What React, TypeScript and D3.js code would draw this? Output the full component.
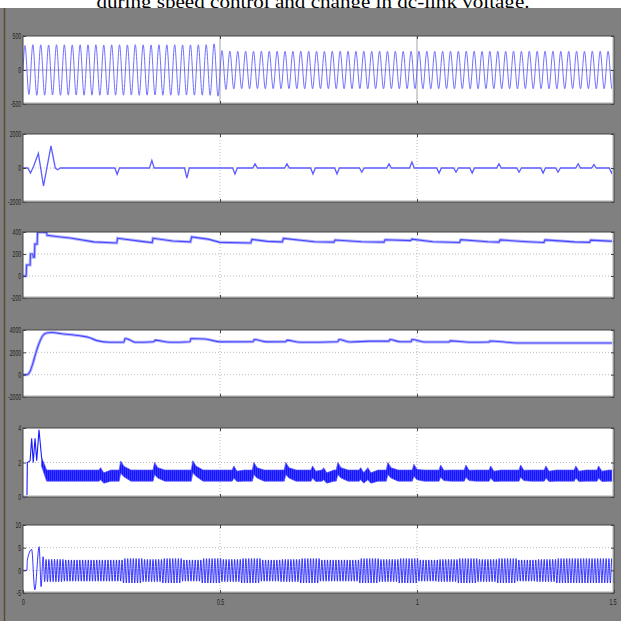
import * as d3 from 'd3';
import React, { useEffect, useRef } from 'react';

const WIDTH = 621;
const HEIGHT = 621;
const PLOT_LEFT = 23;
const PLOT_RIGHT = 614;
const PANEL_TOPS = [36, 134, 232, 330, 428, 525];
const PANEL_BOTTOMS = [104, 202, 298, 397, 497, 593];

const CAPTION = 'during speed control and change in dc-link voltage.';

const X_TICKS = [0, 0.5, 1, 1.5];
const X_TICK_LABELS = ['0', '0.5', '1', '1.5'];
const Y_DOMAINS = [
  [-500, 500],
  [-2000, 2000],
  [-200, 400],
  [-2000, 4000],
  [0, 4],
  [-5, 10],
];
const Y_TICKS = [
  [-500, 0, 500],
  [-2000, 0, 2000],
  [-200, 0, 200, 400],
  [-2000, 0, 2000, 4000],
  [0, 2, 4],
  [-5, 0, 5, 10],
];

// panel 1: 50 Hz voltage, peak of each cycle
const VA_FREQ = 50;
const VA_AMP_PRE = [
  360, 372, 370, 368, 372, 370, 369, 371, 370, 372, 368, 370, 371, 369, 372, 370, 368, 371, 370, 372,
  369, 370, 371, 372, 385,
];
const VA_AMP_POST = [
  285, 278, 275, 276, 274, 277, 275, 276, 274, 275, 277, 276, 274, 275, 276, 277, 275, 274, 276, 275,
  277, 275, 276, 274, 275, 276, 277, 275, 274, 276, 275, 277, 276, 274, 275, 276, 275, 277, 274, 276,
  275, 276, 277, 275, 274, 276, 275, 277, 276, 275,
];

// panel 2: torque, start-up swing and spikes
const TE_START = [
  [0, 0], [0.012, 0], [0.019, -300], [0.027, 100], [0.039, 860], [0.052, -1060],
  [0.071, 1300], [0.082, 0], [0.088, -100], [0.095, 0],
];
const TE_SPIKE_T = [
  0.239, 0.327, 0.416, 0.538, 0.589, 0.67, 0.736, 0.797, 0.86, 0.929, 0.987, 1.056, 1.099, 1.14,
  1.208, 1.259, 1.32, 1.358, 1.409, 1.449, 1.494,
];
const TE_SPIKE_V = [
  -370, 450, -590, -350, 240, 240, -350, -350, -250, 240, 350, -300, -250, -300, 250, -250, -300,
  -250, 250, 200, -300,
];

// panel 3: speed
const SPEED = [
  [0, 0], [0.008, 0], [0.009, 100], [0.018, 100], [0.019, 200], [0.025, 200], [0.026, 170],
  [0.029, 170], [0.03, 290], [0.036, 290], [0.037, 400], [0.06, 395], [0.061, 370], [0.09, 357],
  [0.12, 345], [0.18, 310], [0.238, 300], [0.24, 343], [0.3, 315], [0.328, 303], [0.33, 343],
  [0.38, 318], [0.425, 310], [0.428, 355], [0.47, 335], [0.5, 306], [0.578, 300], [0.581, 333],
  [0.62, 315], [0.658, 310], [0.661, 342], [0.74, 312], [0.789, 308], [0.792, 327], [0.86, 312],
  [0.916, 308], [0.919, 330], [0.984, 322], [0.987, 335], [1.04, 312], [1.108, 305], [1.111, 330],
  [1.18, 312], [1.208, 308], [1.211, 328], [1.28, 312], [1.322, 305], [1.325, 328], [1.4, 310],
  [1.438, 306], [1.441, 326], [1.5, 315],
];

// panel 4: dc-link voltage
const VDC = [
  [0, 0], [0.01, 0], [0.018, 300], [0.025, 1000], [0.033, 2000], [0.043, 3000], [0.053, 3600],
  [0.063, 3760], [0.076, 3770], [0.094, 3680], [0.145, 3480], [0.17, 3300], [0.188, 3050],
  [0.221, 2900], [0.256, 2900], [0.259, 3240], [0.272, 3100], [0.284, 2900], [0.332, 2950],
  [0.335, 3090], [0.373, 2900], [0.424, 2950], [0.426, 3240], [0.462, 3200], [0.5, 2940],
  [0.584, 2950], [0.587, 3150], [0.619, 2940], [0.667, 2950], [0.67, 3090], [0.703, 2900],
  [0.799, 2950], [0.802, 3150], [0.83, 2920], [0.881, 3000], [0.929, 3000], [0.931, 3150],
  [0.957, 2950], [0.985, 2950], [0.987, 3150], [1.02, 2920], [1.082, 2930], [1.084, 3030],
  [1.134, 2900], [1.183, 2920], [1.185, 3020], [1.236, 2880], [1.26, 2830], [1.5, 2830],
];

// panel 5: current magnitude, start-up and ripple band
const IQ_START = [
  [0, 0], [0.01, 0], [0.011, 2.0], [0.018, 2.1], [0.022, 3.4], [0.026, 2.0], [0.0305, 3.4],
  [0.0348, 2.1], [0.0406, 3.9], [0.0475, 2.2],
];
const IQ_BAND_HI = 1.56;
const IQ_BAND_LO = 0.92;
const IQ_SPIKES = [
  [0.195, 1.7], [0.246, 2.08], [0.332, 2.0], [0.429, 2.1], [0.533, 1.8], [0.584, 2.0],
  [0.665, 2.0], [0.733, 1.8], [0.761, 1.7], [0.797, 2.0], [0.855, 1.7], [0.873, 1.7],
  [0.924, 2.0], [0.99, 1.9], [1.058, 1.85], [1.122, 1.85], [1.185, 1.8], [1.261, 1.85],
  [1.325, 1.8], [1.401, 1.8], [1.459, 1.8],
];

// panel 6: phase current, start-up and per-0.05 s peak levels
const IA_START = [
  [0, 0], [0.01, 0], [0.011, 2.3], [0.022, 4.6], [0.03, -4.3], [0.041, 5.2], [0.046, -3.6],
  [0.051, 3.0],
];
const IA_FREQ = 140;
const IA_BLOCK = 0.05;
const IA_HI = [
  2.3, 2.4, 2.3, 2.3, 2.3, 2.6, 2.4, 2.6, 2.3, 2.6, 2.4, 2.6, 2.3, 2.4, 2.6, 2.3, 2.3, 2.6, 2.4,
  2.6, 2.3, 2.4, 2.6, 2.4, 2.6, 2.3, 2.4, 2.6, 2.6, 2.6,
];
const IA_LO = [
  -2.4, -2.5, -2.4, -2.4, -2.4, -2.8, -2.5, -2.8, -2.4, -2.8, -2.5, -2.8, -2.4, -2.5, -2.8, -2.4,
  -2.4, -2.8, -2.5, -2.8, -2.4, -2.5, -2.8, -2.5, -2.8, -2.4, -2.5, -2.8, -2.8, -2.8,
];

const LABEL_FONT = "'Liberation Sans', 'DejaVu Sans', sans-serif";

// squeeze the tick labels like the scope screenshot
const labelWidth = (s: string) =>
  s.split('').reduce((w, c) => w + (c === '-' ? 1.7 : c === '.' ? 1.5 : 2.8), 0);

const App = () => {
  const ref = useRef<SVGSVGElement>(null);

  useEffect(() => {
    if (ref.current === null) return;
    ref.current.replaceChildren();

    const svg = d3.select(ref.current);

    // ripple texture for the dense current band
    const pattern = svg
      .append('defs')
      .append('pattern')
      .attr('id', 'ripple')
      .attr('patternUnits', 'userSpaceOnUse')
      .attr('width', 2)
      .attr('height', 4);
    pattern.append('rect').attr('width', 2).attr('height', 4).attr('fill', '#1414ff');
    pattern.append('rect').attr('x', 1.3).attr('width', 0.7).attr('height', 4).attr('fill', '#4a4aff');

    svg.append('rect').attr('width', WIDTH).attr('height', HEIGHT).attr('fill', '#ffffff');
    svg
      .append('text')
      .attr('x', 313)
      .attr('y', 7.5)
      .attr('text-anchor', 'middle')
      .attr('font-family', "'Liberation Serif', 'Times New Roman', serif")
      .attr('font-size', 19)
      .attr('textLength', 433)
      .attr('lengthAdjust', 'spacingAndGlyphs')
      .attr('fill', '#000')
      .text(CAPTION);
    svg
      .append('rect')
      .attr('y', 8)
      .attr('width', WIDTH)
      .attr('height', HEIGHT - 8)
      .attr('fill', '#808080');
    svg
      .append('line')
      .attr('x1', 4.5)
      .attr('x2', 4.5)
      .attr('y1', 8)
      .attr('y2', HEIGHT)
      .attr('stroke', '#5e4a32')
      .attr('stroke-width', 1.5);

    const x = d3.scaleLinear().domain([0, 1.5]).range([PLOT_LEFT, PLOT_RIGHT]);

    // build each trace from the data arrays
    const va: [number, number][] = [[0, 0]];
    [...VA_AMP_PRE, ...VA_AMP_POST].forEach((a, k) => {
      const t0 = k / VA_FREQ;
      va.push([t0 + 0.25 / VA_FREQ, a], [t0 + 0.75 / VA_FREQ, -a]);
    });
    va.push([1.5, 0]);

    const te: [number, number][] = TE_START.map((d) => [d[0], d[1]]);
    TE_SPIKE_T.forEach((t, i) => {
      te.push([t - 0.006, 0], [t, TE_SPIKE_V[i]], [Math.min(t + 0.006, 1.5), 0]);
    });
    te.push([1.5, 0]);

    const iqBand: [number, number, number][] = [
      [0.047, 2.3, 1.8],
      [0.06, IQ_BAND_HI, IQ_BAND_LO],
    ];
    IQ_SPIKES.forEach(([t, v], i) => {
      const next = i + 1 < IQ_SPIKES.length ? IQ_SPIKES[i + 1][0] : 1.52;
      const end = Math.min(t + 0.028, next - 0.003);
      iqBand.push(
        [t - 0.002, IQ_BAND_HI, IQ_BAND_LO],
        [t + 0.002, v, v - 0.7],
        [t + 0.01, v - 0.3, v - 0.9],
        [end, IQ_BAND_HI, IQ_BAND_LO],
      );
    });
    iqBand.push([1.5, IQ_BAND_HI, IQ_BAND_LO]);

    const ia: [number, number][] = IA_START.map((d) => [d[0], d[1]]);
    const period = 1 / IA_FREQ;
    for (let t = 0.055; t < 1.5; t += period) {
      const b = Math.min(IA_HI.length - 1, Math.floor(t / IA_BLOCK));
      ia.push([t, IA_LO[b]], [t + period / 2, IA_HI[b]]);
    }

    PANEL_TOPS.forEach((top, p) => {
      const bottom = PANEL_BOTTOMS[p];
      const y = d3.scaleLinear().domain(Y_DOMAINS[p]).range([bottom, top]);
      const g = svg.append('g');

      g.append('rect')
        .attr('x', PLOT_LEFT)
        .attr('y', top)
        .attr('width', PLOT_RIGHT - PLOT_LEFT)
        .attr('height', bottom - top)
        .attr('fill', '#ffffff');

      // grid
      const solidGrid = p === 0;
      const grid = g
        .append('g')
        .attr('stroke', solidGrid ? '#9a9a9a' : '#a8a8a8')
        .attr('stroke-width', solidGrid ? 0.9 : 0.8)
        .attr('stroke-dasharray', solidGrid ? null : '1,2');
      grid
        .selectAll('line.gy')
        .data(Y_TICKS[p].filter((v) => v > Y_DOMAINS[p][0] && v < Y_DOMAINS[p][1]))
        .join('line')
        .attr('class', 'gy')
        .attr('x1', PLOT_LEFT)
        .attr('x2', PLOT_RIGHT)
        .attr('y1', (d) => y(d))
        .attr('y2', (d) => y(d));
      grid
        .selectAll('line.gx')
        .data(X_TICKS.slice(1, -1))
        .join('line')
        .attr('class', 'gx')
        .attr('x1', (d) => x(d))
        .attr('x2', (d) => x(d))
        .attr('y1', top)
        .attr('y2', bottom);

      // traces
      const clipId = `clip-${p}`;
      g.append('clipPath')
        .attr('id', clipId)
        .append('rect')
        .attr('x', PLOT_LEFT)
        .attr('y', top)
        .attr('width', PLOT_RIGHT - PLOT_LEFT)
        .attr('height', bottom - top);
      const tr = g.append('g').attr('clip-path', `url(#${clipId})`).attr('fill', 'none');

      const line = d3
        .line<number[]>()
        .x((d) => x(d[0]))
        .y((d) => y(d[1]));

      if (p === 0) {
        tr.append('path')
          .attr('d', line.curve(d3.curveMonotoneX)(va))
          .attr('stroke', '#6060ff')
          .attr('stroke-width', 0.9);
      } else if (p === 1) {
        tr.append('path')
          .attr('d', line.curve(d3.curveLinear)(te))
          .attr('stroke', '#5c5cff')
          .attr('stroke-width', 1.3);
      } else if (p === 2 || p === 3) {
        const data = p === 2 ? SPEED : VDC;
        const d = line.curve(p === 2 ? d3.curveLinear : d3.curveMonotoneX)(data);
        tr.append('path').attr('d', d).attr('stroke', '#b4b4ff').attr('stroke-width', 3);
        tr.append('path').attr('d', d).attr('stroke', '#4848ff').attr('stroke-width', 1.1);
      } else if (p === 4) {
        tr.append('path')
          .attr('d', line.curve(d3.curveLinear)(IQ_START))
          .attr('stroke', '#1a1aff')
          .attr('stroke-width', 1.1);
        const area = d3
          .area<[number, number, number]>()
          .x((d) => x(d[0]))
          .y0((d) => y(d[2]))
          .y1((d) => y(d[1]));
        tr.append('path')
          .attr('d', area(iqBand))
          .attr('fill', 'url(#ripple)')
          .attr('stroke', '#4a4aff')
          .attr('stroke-width', 0.7);
      } else {
        tr.append('path')
          .attr('d', line.curve(d3.curveMonotoneX)(ia))
          .attr('stroke', '#1c1cff')
          .attr('stroke-width', 0.9);
      }

      // frame
      g.append('line')
        .attr('x1', PLOT_LEFT)
        .attr('x2', PLOT_RIGHT)
        .attr('y1', bottom - 1.2)
        .attr('y2', bottom - 1.2)
        .attr('stroke', '#d6d6d6')
        .attr('stroke-width', 1.6);
      g.append('line')
        .attr('x1', PLOT_RIGHT - 1.2)
        .attr('x2', PLOT_RIGHT - 1.2)
        .attr('y1', top)
        .attr('y2', bottom)
        .attr('stroke', '#d6d6d6')
        .attr('stroke-width', 1.6);
      g.append('rect')
        .attr('x', PLOT_LEFT)
        .attr('y', top)
        .attr('width', PLOT_RIGHT - PLOT_LEFT)
        .attr('height', bottom - top)
        .attr('fill', 'none')
        .attr('stroke', '#444')
        .attr('stroke-width', 1);

      // y axis (ticks inside, labels left)
      const yAxis = g
        .append('g')
        .attr('transform', `translate(${PLOT_LEFT},0)`)
        .call(
          d3
            .axisLeft(y)
            .tickValues(Y_TICKS[p])
            .tickSizeInner(-3)
            .tickSizeOuter(0)
            .tickPadding(2)
            .tickFormat((d) => String(d)),
        );
      yAxis.select('.domain').remove();
      yAxis.selectAll('line').attr('stroke', '#444');
      yAxis
        .selectAll<SVGTextElement, number>('text')
        .attr('font-family', LABEL_FONT)
        .attr('font-size', 8.5)
        .attr('fill', '#1e1e1e')
        .attr('textLength', (d) => labelWidth(String(d)))
        .attr('lengthAdjust', 'spacingAndGlyphs');

      const yRight = g
        .append('g')
        .attr('transform', `translate(${PLOT_RIGHT},0)`)
        .call(d3.axisRight(y).tickValues(Y_TICKS[p]).tickSizeInner(-3).tickSizeOuter(0).tickFormat(() => ''));
      yRight.select('.domain').remove();
      yRight.selectAll('line').attr('stroke', '#444');

      // x ticks on top and bottom edges
      const xTop = g
        .append('g')
        .attr('transform', `translate(0,${top})`)
        .call(d3.axisTop(x).tickValues(X_TICKS.slice(1, -1)).tickSizeInner(-3).tickSizeOuter(0).tickFormat(() => ''));
      xTop.select('.domain').remove();
      xTop.selectAll('line').attr('stroke', '#444');

      const xBottom = g
        .append('g')
        .attr('transform', `translate(0,${bottom})`)
        .call(
          d3
            .axisBottom(x)
            .tickValues(p === 5 ? X_TICKS : X_TICKS.slice(1, -1))
            .tickSizeInner(-3)
            .tickSizeOuter(0)
            .tickPadding(6)
            .tickFormat((d) => (p === 5 ? X_TICK_LABELS[X_TICKS.indexOf(Number(d))] : '')),
        );
      xBottom.select('.domain').remove();
      xBottom.selectAll('line').attr('stroke', '#444');
      xBottom
        .selectAll<SVGTextElement, number>('text')
        .attr('font-family', LABEL_FONT)
        .attr('font-size', 8.5)
        .attr('fill', '#1e1e1e')
        .attr('dx', (d) => (d === 1.5 ? -1.5 : 0))
        .attr('textLength', (d) => labelWidth(X_TICK_LABELS[X_TICKS.indexOf(d)] ?? ''))
        .attr('lengthAdjust', 'spacingAndGlyphs');
    });
  }, []);

  return (
    <svg
      ref={ref}
      width={WIDTH}
      height={HEIGHT}
      style={{ position: 'absolute', left: 0, top: 0, display: 'block' }}
    />
  );
};

export default App;
